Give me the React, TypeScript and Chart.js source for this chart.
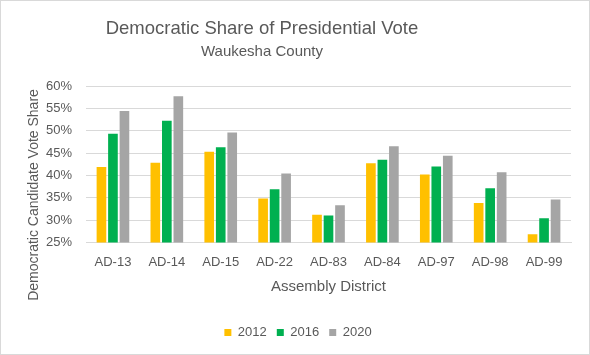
import React, { useEffect, useRef } from "react";
import { Chart, registerables } from "chart.js";

Chart.register(...registerables);

const categories = ["AD-13", "AD-14", "AD-15", "AD-22", "AD-83", "AD-84", "AD-97", "AD-98", "AD-99"];
const values2012 = [41.9, 42.8, 45.3, 34.8, 31.2, 42.7, 40.2, 33.8, 26.8];
const values2016 = [49.3, 52.2, 46.3, 36.9, 31.0, 43.5, 42.0, 37.1, 30.4];
const values2020 = [54.4, 57.7, 49.6, 40.4, 33.3, 46.5, 44.4, 40.7, 34.6];
const seriesNames = ["2012", "2016", "2020"];
const yTicks = [25, 30, 35, 40, 45, 50, 55, 60];
const titleText = "Democratic Share of Presidential Vote";
const subtitleText = "Waukesha County";
const yTitleText = "Democratic Candidate Vote Share";

const FONT = "'Liberation Sans', 'DejaVu Sans', sans-serif";
const TEXT = "#595959";

const titlePlugin = {
  id: "offsetTitle",
  afterDraw(chart: any) {
    const c = chart.ctx;
    c.save();
    c.fillStyle = TEXT;
    c.textAlign = "center";
    c.textBaseline = "middle";
    c.font = `18.5px ${FONT}`;
    c.fillText(titleText, 261, 28);
    c.font = `15px ${FONT}`;
    c.fillText(subtitleText, 261, 51);
    c.translate(33, 194);
    c.rotate(-Math.PI / 2);
    c.font = `14px ${FONT}`;
    c.fillText(yTitleText, 0, 0);
    c.restore();
  },
};

export default function App() {
  const ref = useRef<HTMLCanvasElement | null>(null);
  useEffect(() => {
    document.body.style.margin = "0";
    const ctx = ref.current!;
    const chart = new Chart(ctx, {
      type: "bar",
      data: {
        labels: categories,
        datasets: [
          { label: seriesNames[0], data: values2012, backgroundColor: "#FFC000" },
          { label: seriesNames[1], data: values2016, backgroundColor: "#00B050" },
          { label: seriesNames[2], data: values2020, backgroundColor: "#A5A5A5" },
        ],
      },
      options: {
        animation: false,
        responsive: false,
        maintainAspectRatio: false,
        layout: { padding: { left: 24, right: 18, top: 85, bottom: 5 } },
        datasets: { bar: { categoryPercentage: 0.64, barPercentage: 0.84 } } as any,
        plugins: {
          title: { display: false },
          legend: {
            position: "bottom",
            labels: {
              color: TEXT,
              font: { family: FONT, size: 13 },
              boxWidth: 7,
              boxHeight: 7,
              padding: 10,
            },
          },
          tooltip: { enabled: false },
        },
        scales: {
          x: {
            grid: { display: false },
            border: { color: "#D9D9D9" },
            ticks: { color: TEXT, font: { family: FONT, size: 13 }, padding: 4 },
            title: {
              display: true,
              text: "Assembly District",
              color: TEXT,
              font: { family: FONT, size: 15 },
              padding: { top: 4, bottom: 20 },
            },
          },
          y: {
            min: yTicks[0],
            max: yTicks[yTicks.length - 1],
            afterBuildTicks: (axis: any) => {
              axis.ticks = yTicks.map((v) => ({ value: v }));
            },
            afterFit: (axis: any) => {
              axis.width = 61;
            },
            grid: { color: "#D9D9D9", drawTicks: false },
            border: { display: false },
            ticks: {
              color: TEXT,
              font: { family: FONT, size: 13 },
              padding: 14,
              callback: (v: any) => v + "%",
            },
          },
        },
      },
      plugins: [titlePlugin],
    });
    return () => chart.destroy();
  }, []);
  return (
    <div
      style={{
        position: "absolute",
        left: 0,
        top: 0,
        width: 588,
        height: 353,
        border: "1px solid #D9D9D9",
        background: "#fff",
      }}
    >
      <canvas ref={ref} width={588} height={353} />
    </div>
  );
}
